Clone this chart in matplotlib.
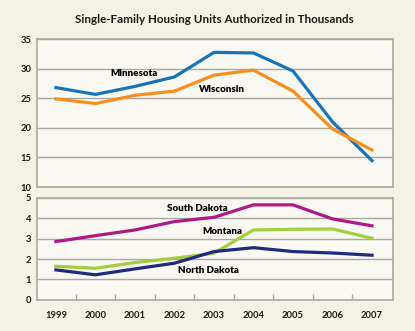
import matplotlib.pyplot as plt

plt.rcParams['font.family'] = ['Lato', 'DejaVu Sans']

# Dados (milhares de unidades)
anos = [1999, 2000, 2001, 2002, 2003, 2004, 2005, 2006, 2007]
minnesota = [26.8, 25.65, 27.0, 28.6, 32.75, 32.65, 29.6, 21.0, 14.45]
wisconsin = [24.9, 24.1, 25.5, 26.2, 28.9, 29.75, 26.2, 19.8, 16.25]
south_dakota = [2.86, 3.15, 3.43, 3.84, 4.05, 4.66, 4.66, 3.97, 3.63]
montana = [1.65, 1.55, 1.83, 2.04, 2.29, 3.43, 3.46, 3.48, 3.02]
north_dakota = [1.47, 1.23, 1.52, 1.80, 2.37, 2.56, 2.37, 2.30, 2.19]

fundo = '#f4f1e6'
area = '#faf8f2'
cinza = '#a9a8a2'

fig = plt.figure(figsize=(4.15, 3.31), dpi=100, facecolor=fundo)
ax1 = fig.add_axes([0.089, 0.435, 0.858, 0.447])
ax2 = fig.add_axes([0.089, 0.094, 0.858, 0.308])

fig.text(0.517, 0.942, 'Single-Family Housing Units Authorized in Thousands',
         ha='center', va='center', fontsize=8.35, fontweight='bold', color='#1a1a1a')

for ax in (ax1, ax2):
    ax.set_facecolor(area)
    ax.set_xlim(1998.52, 2007.53)
    for s in ax.spines.values():
        s.set_color(cinza)
        s.set_linewidth(1.2)
    ax.grid(axis='y', color=cinza, linewidth=1.0)
    ax.set_axisbelow(True)
    ax.tick_params(axis='y', length=0, labelsize=6.8, pad=4, colors='#1a1a1a')

# painel de cima
ax1.plot(anos, minnesota, color='#1874b8', linewidth=2.3)
ax1.plot(anos, wisconsin, color='#f5901e', linewidth=2.3)
ax1.set_ylim(10, 35)
ax1.set_yticks([10, 15, 20, 25, 30, 35])
ax1.set_xticks([])
ax1.text(2000.98, 29.25, 'Minnesota', ha='center', va='center', fontsize=7, fontweight='heavy')
ax1.text(2003.2, 26.4, 'Wisconsin', ha='center', va='center', fontsize=7, fontweight='heavy')
for lbl in ax1.get_yticklabels():
    lbl.set_fontweight('bold')

# painel de baixo
ax2.plot(anos, south_dakota, color='#ad1a88', linewidth=2.3)
ax2.plot(anos, montana, color='#a4cd3c', linewidth=2.3)
ax2.plot(anos, north_dakota, color='#1f2a80', linewidth=2.3)
ax2.set_ylim(0, 5)
ax2.set_yticks([0, 1, 2, 3, 4, 5])
ax2.set_xticks(anos)
ax2.set_xticklabels([str(a) for a in anos], fontsize=6.8, fontweight='bold')
ax2.tick_params(axis='x', length=0, pad=8, colors='#1a1a1a')
ax2.set_xticks([a + 0.5 for a in anos[:-1]], minor=True)
ax2.tick_params(axis='x', which='minor', direction='in', length=4, color=cinza, width=1)
ax2.text(2002.57, 4.5, 'South Dakota', ha='center', va='center', fontsize=7, fontweight='heavy')
ax2.text(2003.2, 3.33, 'Montana', ha='center', va='center', fontsize=7, fontweight='heavy')
ax2.text(2002.85, 1.42, 'North Dakota', ha='center', va='center', fontsize=7, fontweight='heavy')
for lbl in ax2.get_yticklabels():
    lbl.set_fontweight('bold')

fig.savefig('out.png', dpi=100, facecolor=fundo)
